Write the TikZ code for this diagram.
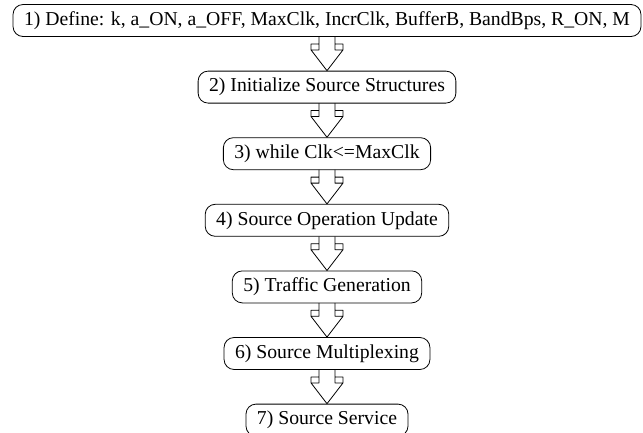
\documentclass[tikz,border=0pt]{standalone}
\usepackage{fontspec}
\setmainfont{Liberation Serif}
\usetikzlibrary{positioning}
\begin{document}
\begin{tikzpicture}[x=1pt, y=1pt, font=\fontsize{19.7}{23}\selectfont, line join=round, line cap=round,
		stage/.style={draw, line width=0.8pt, rounded corners=10pt, minimum height=32pt, inner xsep=11pt, inner ysep=0pt},
		node distance=33.8pt]
	\useasboundingbox (0,0) rectangle (643,-432);
	\node[stage] (s1) at (327,-20.5) {1) Define: k, a\_ON, a\_OFF, MaxClk, IncrClk, BufferB, BandBps, R\_ON, M};
	\node[stage, below=of s1] (s2) {2) Initialize Source Structures};
	\node[stage, below=of s2] (s3) {3) while Clk<=MaxClk};
	\node[stage, below=of s3] (s4) {4) Source Operation Update};
	\node[stage, below=of s4] (s5) {5) Traffic Generation};
	\node[stage, below=of s5] (s6) {6) Source Multiplexing};
	\node[stage, below=of s6] (s7) {7) Source Service};
	\foreach \a/\b in {s1/s2,s2/s3,s3/s4,s4/s5,s5/s6,s6/s7}
	\draw[line width=0.8pt, shift={(\a.south)}] (-8,0)--(-8,-13) (8,0)--(8,-13)
		(-8,-7)--(-16,-7)--(-16,-13)--(-8,-13) (8,-7)--(16,-7)--(16,-13)--(8,-13)
		(-16,-13)--(\b.north)--(16,-13);
\end{tikzpicture}
\end{document}
